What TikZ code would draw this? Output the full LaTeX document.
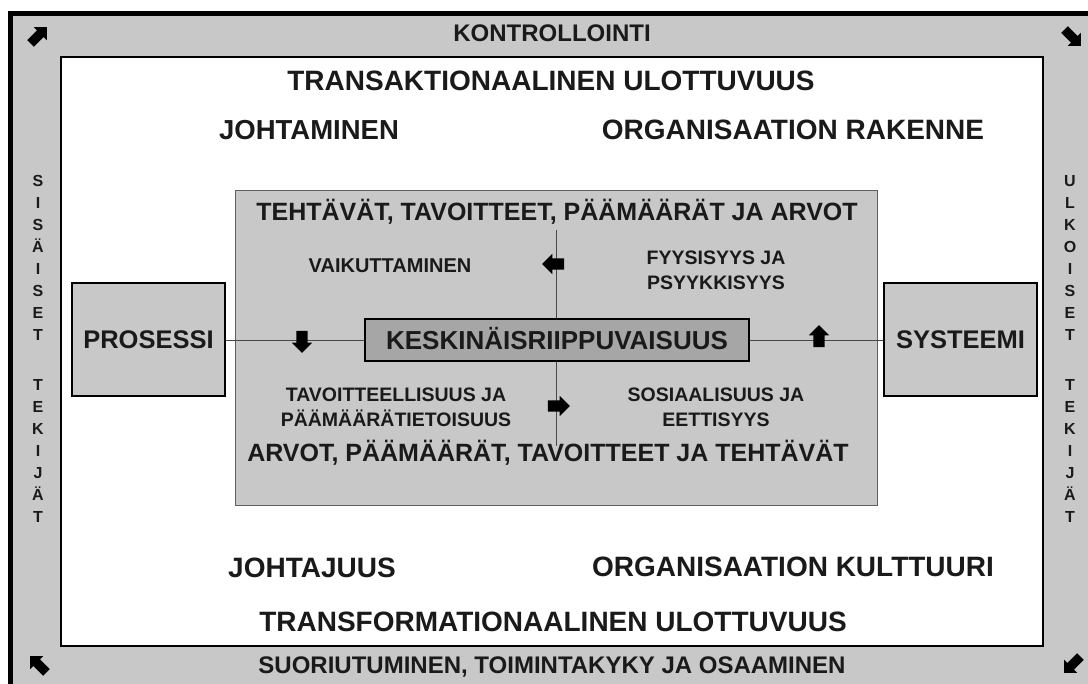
\documentclass[tikz,border=0pt]{standalone}
\usepackage{fontspec}
\setmainfont{Liberation Sans}
\usetikzlibrary{positioning,shapes.arrows}
\definecolor{panel}{HTML}{C8C8C8}
\definecolor{keyfill}{HTML}{A6A6A6}
\definecolor{ink}{HTML}{1A1A1A}
\tikzset{
  lbl/.style={font=\bfseries\fontsize{#1}{#1}\selectfont,text=ink,inner sep=0pt,
    text height={0.72*#1pt},text depth=0pt},
  lbl2/.style={font=\bfseries\fontsize{#1}{25}\selectfont,text=ink,inner sep=0pt,align=center},
  vlbl/.style={font=\bfseries\fontsize{16}{22}\selectfont,text=ink,inner sep=0pt,align=center},
  sidebox/.style={draw=black,line width=2pt,fill=panel,minimum width=153pt,minimum height=113pt},
  keybox/.style={draw=black,line width=2pt,fill=keyfill,minimum width=384pt,minimum height=42pt},
  blk/.style={single arrow,fill=black,draw=none,inner xsep=0pt,inner ysep=5.5pt,
    minimum height=22pt,single arrow head extend=4.5pt,single arrow head indent=0pt},
  cblk/.style={blk,minimum height=23pt,inner ysep=4.5pt,single arrow head extend=4.5pt},
  link/.style={draw=ink!80,line width=1pt},
}
\begin{document}
\begin{tikzpicture}[x=1pt,y=-1pt]
  \useasboundingbox (0,0) rectangle (1088,684);
  % frame
  \draw[line width=5pt,fill=panel] (10,13.5) rectangle (1100,700);
  \draw[line width=2.5pt,fill=white] (61,57) rectangle (1043,646);
  \draw[draw=ink!70,line width=0.8pt,fill=panel] (235,190) rectangle (877,505);

  % main nodes
  \node[sidebox] (pros) at (148.5,339.5) {};
  \node[sidebox] (syst) at (960.5,339.5) {};
  \node[keybox] (key) at (557,340.5) {};
  \node[lbl=25.5] at (pros) {PROSESSI};
  \node[lbl=25.5] at (syst) {SYSTEEMI};
  \node[lbl=26] at (key) {KESKINÄISRIIPPUVAISUUS};
  \coordinate (vtop) at (556,230);
  \coordinate (vbot) at (556,446);
  \draw[link] (pros.east |- key.west) -- (key.west);
  \draw[link] (key.east) -- (syst.west |- key.east);
  \draw[link] (vtop) -- (key.north -| vtop);
  \draw[link] (key.south -| vbot) -- (vbot);

  % block arrows
  \node[blk,rotate=-90] (adown) at (302,339) {};
  \node[blk,rotate=90] (aup) at (819,339) {};
  \node[blk,rotate=180] (aleft) at (556,264) {};
  \node[blk] (aright) at (556,406) {};
  \node[cblk,rotate=45] (cne) at (37,37) {};
  \node[cblk,rotate=-45] (cse) at (1071,36) {};
  \node[cblk,rotate=-135] (csw) at (1074,663) {};
  \node[cblk,rotate=135] (cnw) at (40,666) {};

  % texts
  \node[lbl=24] (ctrl) at (552,33) {KONTROLLOINTI};
  \node[lbl=24] (perf) at (552,665) {SUORIUTUMINEN, TOIMINTAKYKY JA OSAAMINEN};
  \node[lbl=28] (trans) at (551,80) {TRANSAKTIONAALINEN ULOTTUVUUS};
  \node[lbl=28] (transf) at (553,621) {TRANSFORMATIONAALINEN ULOTTUVUUS};
  \node[lbl=27.5] (joht) at (309,130) {JOHTAMINEN};
  \node[lbl=28] (rak) at (793,129) {ORGANISAATION RAKENNE};
  \node[lbl=28] (johtaj) at (312,567) {JOHTAJUUS};
  \node[lbl=28] (kult) at (793,566) {ORGANISAATION KULTTUURI};
  \node[lbl=25] (tehtt) at (557,212) {TEHTÄVÄT, TAVOITTEET, PÄÄMÄÄRÄT JA ARVOT};
  \node[lbl=25] (arvot) at (548,453) {ARVOT, PÄÄMÄÄRÄT, TAVOITTEET JA TEHTÄVÄT};
  \node[lbl=20] (vaik) at (390,265) {VAIKUTTAMINEN};
  \node[lbl2=19.5] (fyys) at (716,270) {FYYSISYYS JA\\PSYYKKISYYS};
  \node[lbl2=19.5] (tavo) at (396,407.5) {TAVOITTEELLISUUS JA\\PÄÄMÄÄRÄTIETOISUUS};
  \node[lbl2=19.5] (sosi) at (716,407.5) {SOSIAALISUUS JA\\EETTISYYS};
  \node[vlbl] (sis) at (38,349) {S\\I\\S\\Ä\\I\\S\\E\\T\\[28pt]T\\E\\K\\I\\J\\Ä\\T};
  \node[vlbl] (ulk) at (1070,349) {U\\L\\K\\O\\I\\S\\E\\T\\[28pt]T\\E\\K\\I\\J\\Ä\\T};
\end{tikzpicture}
\end{document}
